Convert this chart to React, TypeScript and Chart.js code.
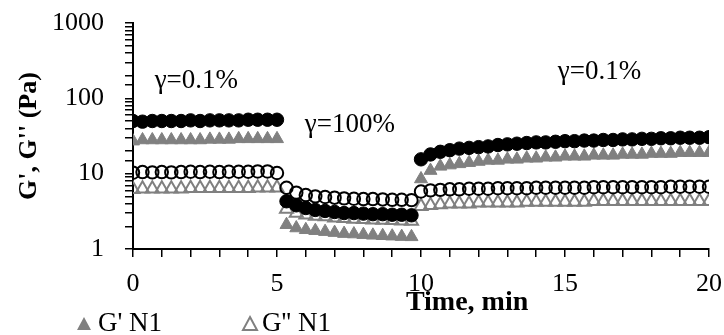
import React, { useEffect, useRef } from "react";
import { Chart, registerables } from "chart.js";
Chart.register(...registerables);

const TIME = [
  0, 0.33, 0.67, 1, 1.33, 1.67, 2, 2.33, 2.67, 3, 3.33, 3.67, 4, 4.33, 4.67, 5,
  5.33, 5.67, 6, 6.33, 6.67, 7, 7.33, 7.67, 8, 8.33, 8.67, 9, 9.33, 9.67,
  10, 10.33, 10.67, 11, 11.33, 11.67, 12, 12.33, 12.67, 13, 13.33, 13.67, 14, 14.33, 14.67,
  15, 15.33, 15.67, 16, 16.33, 16.67, 17, 17.33, 17.67, 18, 18.33, 18.67, 19, 19.33, 19.67, 20,
];

// filled black circles
const G1_FILLED_CIRCLE = [
  50, 49, 50, 50, 50, 50, 51, 50, 51, 51, 51, 51, 52, 52, 52, 52,
  4.3, 3.8, 3.5, 3.3, 3.2, 3.1, 3.0, 3.0, 2.95, 2.9, 2.9, 2.85, 2.85, 2.8,
  15.5, 18, 19.5, 20.5, 21.5, 22, 22.5, 23, 24, 24.5, 25, 25.5, 26, 26, 26.5,
  27, 27, 27.5, 27.5, 28, 28, 28.5, 28.5, 29, 29, 29.5, 29.5, 30, 30, 30, 30.5,
];

// open black circles
const G2_OPEN_CIRCLE = [
  10.3, 10.5, 10.4, 10.5, 10.4, 10.5, 10.6, 10.5, 10.6, 10.5, 10.6, 10.6, 10.6, 10.7, 10.7, 10.2,
  6.5, 5.6, 5.2, 5.0, 4.9, 4.8, 4.7, 4.65, 4.6, 4.6, 4.55, 4.5, 4.5, 4.45,
  5.8, 6.0, 6.1, 6.2, 6.2, 6.3, 6.3, 6.3, 6.4, 6.4, 6.4, 6.4, 6.5, 6.5, 6.5,
  6.5, 6.5, 6.5, 6.6, 6.6, 6.6, 6.6, 6.6, 6.6, 6.6, 6.6, 6.7, 6.7, 6.7, 6.7, 6.7,
];

// G' N1 (gray filled triangles)
const GP_N1 = [
  27, 28, 28, 28, 28, 28, 28, 28, 28.5, 28.5, 28.5, 29, 29, 29, 29, 29,
  2.1, 1.9, 1.8, 1.75, 1.7, 1.65, 1.6, 1.58, 1.55, 1.52, 1.5, 1.48, 1.46, 1.45,
  8.5, 11, 12.5, 13, 13.5, 14, 14.5, 15, 15, 15.5, 15.5, 16, 16, 16.5, 16.5,
  17, 17, 17, 17.5, 17.5, 17.5, 18, 18, 18, 18.5, 18.5, 18.5, 19, 19, 19, 19,
];

// G'' N1 (gray open triangles)
const GPP_N1 = [
  6.2, 6.3, 6.3, 6.3, 6.3, 6.3, 6.4, 6.4, 6.4, 6.4, 6.4, 6.4, 6.4, 6.5, 6.5, 6.5,
  3.4, 3.0, 2.85, 2.75, 2.7, 2.6, 2.55, 2.5, 2.48, 2.45, 2.42, 2.4, 2.38, 2.35,
  3.7, 3.8, 3.9, 4.0, 4.0, 4.0, 4.1, 4.1, 4.1, 4.1, 4.1, 4.2, 4.2, 4.2, 4.2,
  4.2, 4.2, 4.2, 4.3, 4.3, 4.3, 4.3, 4.3, 4.3, 4.3, 4.3, 4.3, 4.3, 4.3, 4.3, 4.3,
];

const ANNOTATIONS = [
  { text: "γ=0.1%", x: 2.2, y: 170 },
  { text: "γ=100%", x: 7.53, y: 45 },
  { text: "γ=0.1%", x: 16.2, y: 224 },
];

const X_TITLE = "Time, min";
const Y_TITLE = "G', G'' (Pa)";
const LEGEND = [
  { label: "G' N1", filled: true },
  { label: "G'' N1", filled: false },
];

const GRAY = "#808080";
const FONT = '"Liberation Serif", "Times New Roman", serif';

const pts = (vals: number[]) => vals.map((v, i) => ({ x: TIME[i], y: v }));

const textPlugin = {
  id: "texts",
  afterDraw(chart: any) {
    const { ctx, scales, chartArea } = chart;
    const x = scales.x;
    const y = scales.y;
    ctx.save();
    ctx.fillStyle = "#000";
    ctx.textAlign = "center";
    ctx.textBaseline = "middle";
    ctx.font = `27px ${FONT}`;
    ANNOTATIONS.forEach((a) => {
      ctx.fillText(a.text, x.getPixelForValue(a.x), y.getPixelForValue(a.y));
    });
    ctx.font = `bold 28px ${FONT}`;
    ctx.fillText(X_TITLE, x.getPixelForValue(11.6), 303);
    ctx.save();
    ctx.font = `bold 26px ${FONT}`;
    ctx.translate(29, (chartArea.top + chartArea.bottom) / 2);
    ctx.rotate(-Math.PI / 2);
    ctx.fillText(Y_TITLE, 0, 0);
    ctx.restore();

    // legend
    const lx = [84, 250];
    const tx = [98, 262];
    ctx.font = `27px ${FONT}`;
    ctx.textAlign = "left";
    ctx.textBaseline = "alphabetic";
    LEGEND.forEach((l, i) => {
      const cx = lx[i];
      ctx.beginPath();
      ctx.moveTo(cx, 317);
      ctx.lineTo(cx + 7, 330);
      ctx.lineTo(cx - 7, 330);
      ctx.closePath();
      if (l.filled) {
        ctx.fillStyle = GRAY;
        ctx.fill();
      } else {
        ctx.strokeStyle = GRAY;
        ctx.lineWidth = 2;
        ctx.stroke();
      }
      ctx.fillStyle = "#000";
      ctx.fillText(l.label, tx[i], 331);
    });
    ctx.restore();
  },
};

export default function App() {
  const ref = useRef<HTMLCanvasElement | null>(null);
  useEffect(() => {
    document.body.style.margin = "0";
    const canvas = ref.current!;
    const chart = new Chart(canvas, {
      type: "scatter",
      data: {
        datasets: [
          {
            label: "G'' N2",
            data: pts(G2_OPEN_CIRCLE),
            pointStyle: "circle",
            pointRadius: 6.2,
            backgroundColor: "rgba(0,0,0,0)",
            borderColor: "#000",
            borderWidth: 2,
          },
          {
            label: "G' N2",
            data: pts(G1_FILLED_CIRCLE),
            pointStyle: "circle",
            pointRadius: 6.7,
            backgroundColor: "#000",
            borderColor: "#000",
            borderWidth: 1,
          },
          {
            label: "G'' N1",
            data: pts(GPP_N1),
            pointStyle: "triangle",
            pointRadius: 7.5,
            backgroundColor: "rgba(0,0,0,0)",
            borderColor: GRAY,
            borderWidth: 2,
          },
          {
            label: "G' N1",
            data: pts(GP_N1),
            pointStyle: "triangle",
            pointRadius: 7.5,
            backgroundColor: GRAY,
            borderColor: GRAY,
            borderWidth: 1,
          },
        ],
      },
      options: {
        animation: false,
        responsive: false,
        maintainAspectRatio: false,
        layout: { padding: { top: 23, right: 15, left: 0, bottom: 0 } },
        plugins: { legend: { display: false }, tooltip: { enabled: false } },
        scales: {
          x: {
            type: "linear",
            min: 0,
            max: 20,
            afterFit: (s: any) => {
              s.height = 86;
              s.paddingLeft = 0;
              s.paddingRight = 0;
            },
            grid: {
              display: true,
              drawOnChartArea: false,
              drawTicks: true,
              tickLength: 8,
              color: "#000",
              lineWidth: 1.5,
            },
            border: { display: true, color: "#000", width: 2 },
            ticks: {
              stepSize: 1,
              autoSkip: false,
              maxRotation: 0,
              padding: 12,
              color: "#000",
              font: { family: FONT, size: 26 },
              callback: (v: any) => (Number(v) % 5 === 0 ? String(v) : ""),
            },
          },
          y: {
            type: "logarithmic",
            min: 1,
            max: 1000,
            afterFit: (s: any) => {
              s.width = 133;
              s.paddingTop = 0;
              s.paddingBottom = 0;
            },
            grid: {
              display: true,
              drawOnChartArea: false,
              drawTicks: true,
              tickLength: 8,
              color: "#000",
              lineWidth: 1.5,
            },
            border: { display: true, color: "#000", width: 2 },
            ticks: {
              autoSkip: false,
              padding: 21,
              color: "#000",
              font: { family: FONT, size: 26 },
              callback: (v: any) => {
                const n = Number(v);
                const l = Math.log10(n);
                return Math.abs(l - Math.round(l)) < 1e-9 ? String(n) : "";
              },
            },
          },
        },
      },
      plugins: [textPlugin],
    });
    return () => chart.destroy();
  }, []);
  return (
    <div style={{ width: 724, height: 335, background: "#fff" }}>
      <canvas ref={ref} width={724} height={335} style={{ width: 724, height: 335, display: "block" }} />
    </div>
  );
}
